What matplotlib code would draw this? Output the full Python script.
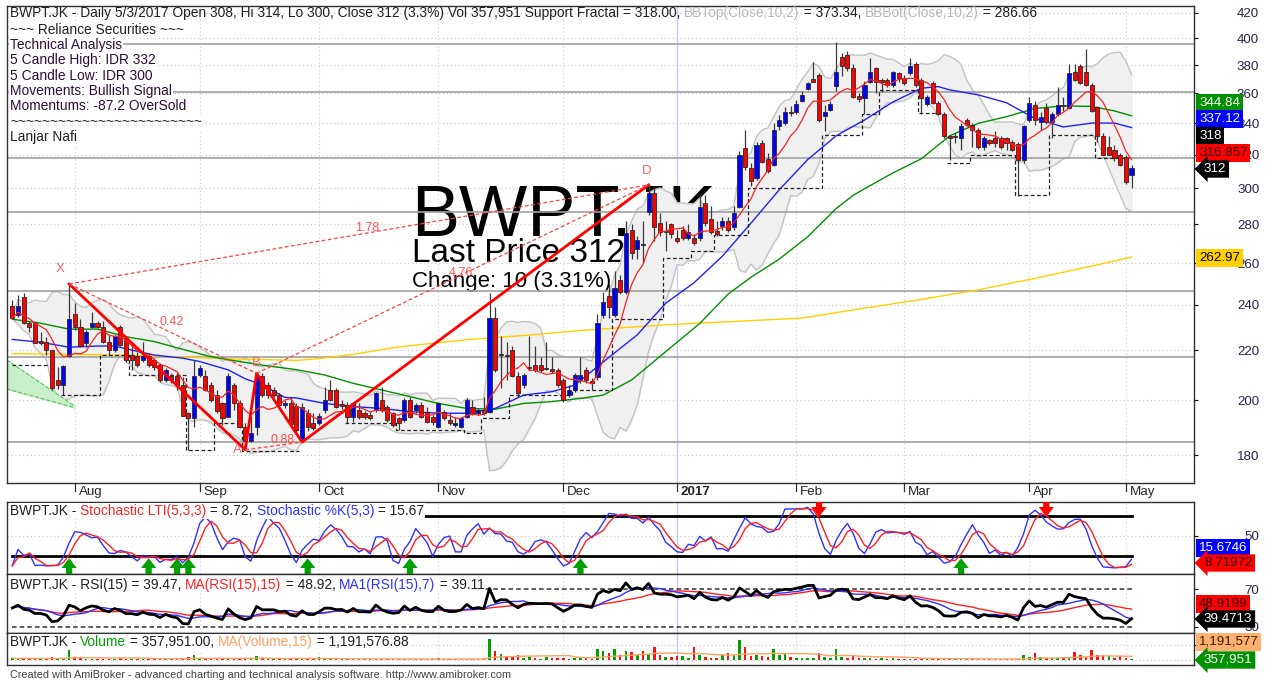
import numpy as np
import pandas as pd
import matplotlib
matplotlib.use("Agg")
import matplotlib.pyplot as plt
from matplotlib.ticker import NullLocator

plt.rcParams['font.family'] = ['Liberation Sans', 'DejaVu Sans']

W, H = 1274, 681

# daily bars, mid Jul 2016 .. 3 May 2017
opens = [
    239.5, 235.4, 243.5, 231.7, 231.7, 223.7, 223.7, 220.1, 207.8, 205.9,
    217.6, 235.9, 229.9, 223.3, 229.9, 231.7, 229.9, 223.7, 220.1, 229.9,
    225.1, 218.0, 217.6, 216.0, 217.6, 216.0, 213.9, 207.8, 209.5, 209.5,
    205.9, 195.0, 193.1, 210.0, 209.5, 205.9, 202.0, 198.8, 193.7, 205.9,
    198.8, 190.1, 185.0, 190.1, 209.5, 205.9, 203.9, 202.0, 198.1, 199.0,
    197.7, 185.3, 195.0, 191.5, 191.5, 196.2, 204.0, 204.0, 198.5, 198.1,
    193.7, 196.2, 195.0, 194.3, 196.2, 200.0, 197.5, 195.0, 193.1, 192.5,
    200.0, 196.2, 198.1, 195.6, 193.7, 190.0, 195.6, 192.5, 190.6, 190.0,
    193.7, 197.5, 195.0, 196.2, 195.6, 233.9, 218.3, 218.0, 220.1, 209.5,
    205.8, 213.0, 213.9, 213.9, 212.5, 212.0, 211.9, 207.8, 202.0, 203.9,
    208.0, 212.0, 207.5, 209.0, 235.4, 244.0, 235.4, 251.6, 246.0, 277.0,
    267.0, 269.5, 287.0, 297.2, 281.0, 276.5, 280.0, 273.0, 277.0, 273.0,
    273.0, 272.6, 291.5, 283.0, 276.5, 279.0, 282.0, 278.6, 289.7, 324.0,
    311.7, 306.0, 327.2, 317.6, 313.7, 337.9, 340.0, 347.5, 347.0, 355.0,
    363.0, 370.3, 372.7, 344.5, 348.8, 365.0, 386.0, 387.7, 377.5, 358.0,
    356.6, 368.0, 377.5, 369.5, 369.5, 365.7, 373.9, 370.4, 374.0, 381.0,
    369.5, 352.7, 367.0, 353.5, 346.0, 331.7, 331.5, 330.5, 342.0, 339.0,
    335.5, 324.6, 328.9, 330.5, 330.5, 330.5, 327.9, 326.9, 316.8, 342.0,
    352.0, 340.5, 350.0, 340.5, 346.0, 352.0, 350.0, 375.1, 379.0, 375.0,
    365.7, 350.5, 331.7, 324.6, 323.0, 319.8, 318.7, 308.0]
highs = [
    242.3, 244.6, 245.4, 232.5, 232.5, 228.0, 225.8, 220.1, 213.2, 213.9,
    249.8, 240.7, 233.5, 228.8, 236.9, 232.5, 232.5, 226.6, 226.6, 231.0,
    225.8, 222.3, 219.4, 223.7, 219.0, 216.7, 214.5, 212.5, 210.5, 210.5,
    209.2, 195.6, 216.0, 213.9, 212.0, 207.2, 203.9, 199.4, 210.5, 206.5,
    200.0, 191.3, 194.0, 210.5, 210.5, 207.2, 205.0, 202.6, 200.0, 201.0,
    199.0, 199.0, 196.5, 195.0, 195.0, 205.0, 208.0, 204.5, 200.0, 199.4,
    199.4, 199.0, 196.0, 195.5, 203.2, 205.0, 198.1, 195.6, 193.7, 200.6,
    201.3, 199.0, 199.4, 197.5, 194.3, 199.4, 196.2, 195.0, 193.7, 193.7,
    200.6, 200.0, 197.0, 201.3, 245.4, 239.2, 225.9, 223.7, 221.6, 211.2,
    210.5, 225.9, 221.6, 217.3, 223.7, 217.3, 212.6, 208.5, 206.0, 210.5,
    217.3, 213.2, 208.5, 236.0, 246.0, 250.0, 256.0, 254.0, 282.0, 280.0,
    274.0, 282.0, 302.0, 301.0, 286.0, 282.0, 281.0, 277.0, 279.0, 280.0,
    275.0, 296.0, 296.0, 290.0, 282.0, 284.0, 284.0, 290.0, 322.0, 335.5,
    314.7, 328.0, 329.0, 320.8, 340.0, 345.0, 350.5, 351.5, 355.5, 361.5,
    368.0, 382.0, 374.0, 352.0, 355.0, 397.0, 388.5, 390.0, 381.0, 360.0,
    368.5, 385.0, 378.5, 370.5, 370.5, 376.0, 375.0, 372.5, 384.9, 382.4,
    371.0, 358.5, 368.5, 354.5, 347.0, 332.5, 333.4, 340.0, 343.0, 340.0,
    336.5, 331.7, 330.0, 335.0, 331.7, 331.0, 329.0, 328.0, 338.9, 357.6,
    354.5, 347.5, 353.0, 347.5, 364.5, 357.5, 381.0, 381.0, 380.8, 392.0,
    367.0, 351.5, 333.4, 332.0, 326.0, 320.8, 319.8, 314.0]
lows = [
    233.5, 234.7, 231.3, 228.0, 223.0, 222.3, 218.0, 203.9, 204.2, 202.0,
    217.0, 228.8, 221.5, 221.3, 229.5, 229.5, 223.0, 218.0, 219.4, 221.8,
    215.3, 211.9, 213.2, 215.3, 213.2, 211.9, 207.2, 207.2, 206.5, 203.9,
    193.8, 181.8, 189.8, 209.2, 203.3, 199.4, 195.0, 190.7, 193.5, 196.2,
    189.5, 181.8, 184.7, 187.1, 201.3, 200.7, 201.3, 197.5, 197.0, 190.0,
    187.5, 184.5, 188.5, 188.8, 190.5, 195.0, 199.5, 196.8, 196.5, 191.3,
    191.9, 193.0, 193.0, 192.5, 195.6, 195.6, 191.9, 190.0, 188.8, 191.9,
    193.1, 195.0, 193.1, 191.3, 190.6, 189.4, 192.5, 190.6, 190.0, 189.4,
    193.1, 194.3, 194.5, 194.3, 195.0, 211.2, 204.5, 207.8, 209.1, 201.3,
    204.5, 211.9, 211.2, 211.2, 211.9, 210.5, 205.2, 199.4, 201.0, 203.0,
    206.5, 206.5, 203.9, 208.0, 234.0, 234.0, 234.5, 245.0, 245.0, 262.0,
    262.0, 260.0, 285.0, 271.0, 274.0, 266.0, 273.0, 270.0, 272.0, 272.0,
    269.0, 271.0, 279.0, 275.0, 274.0, 277.0, 276.0, 277.0, 289.0, 311.0,
    301.5, 305.0, 314.7, 309.0, 313.0, 335.5, 339.0, 344.5, 346.0, 354.0,
    362.0, 367.5, 341.0, 335.0, 348.0, 361.5, 372.0, 376.0, 356.6, 354.0,
    346.0, 367.0, 360.5, 361.0, 364.5, 364.5, 367.5, 365.7, 373.0, 364.5,
    345.7, 351.5, 352.5, 345.0, 330.5, 316.8, 327.0, 322.6, 338.0, 325.0,
    323.5, 322.6, 326.0, 324.6, 323.5, 322.6, 322.0, 295.4, 314.7, 341.0,
    338.5, 335.5, 339.5, 330.5, 344.5, 348.0, 349.0, 368.5, 366.5, 365.0,
    347.0, 327.9, 319.8, 319.8, 316.0, 313.0, 302.5, 300.0]
closes = [
    233.9, 239.5, 231.7, 229.9, 223.3, 223.3, 220.1, 204.6, 205.9, 213.6,
    233.5, 229.9, 221.8, 228.0, 231.7, 230.2, 223.7, 220.1, 226.1, 222.3,
    216.0, 216.0, 213.9, 217.6, 213.9, 213.2, 207.8, 211.9, 207.8, 205.9,
    194.0, 193.1, 209.5, 212.5, 203.9, 200.0, 196.0, 193.1, 209.5, 198.8,
    190.1, 185.0, 187.7, 209.5, 202.0, 202.0, 202.0, 198.1, 199.0, 191.0,
    188.8, 197.4, 190.0, 189.5, 194.0, 200.0, 200.0, 197.5, 197.8, 193.7,
    198.7, 193.7, 193.7, 193.1, 202.6, 196.2, 192.5, 190.6, 191.3, 200.0,
    193.7, 198.1, 193.7, 191.9, 191.9, 198.7, 193.1, 191.3, 191.5, 193.1,
    200.0, 195.0, 196.2, 195.0, 233.9, 211.9, 218.0, 217.6, 209.5, 202.6,
    209.8, 212.6, 211.9, 211.9, 212.2, 211.6, 205.8, 200.0, 204.0, 209.8,
    210.0, 208.0, 206.6, 231.6, 241.5, 239.0, 247.7, 246.0, 275.3, 265.0,
    272.0, 269.0, 297.2, 278.8, 276.0, 276.0, 275.0, 271.0, 273.0, 276.0,
    270.0, 289.7, 280.5, 276.0, 275.0, 282.0, 277.0, 286.0, 319.8, 312.7,
    304.3, 325.9, 315.6, 310.0, 335.5, 342.0, 347.0, 346.5, 352.7, 359.0,
    366.8, 368.0, 342.0, 347.4, 352.4, 375.3, 379.6, 378.0, 357.6, 356.0,
    365.7, 375.0, 368.0, 368.0, 365.7, 375.1, 370.4, 367.4, 379.3, 365.7,
    356.6, 357.6, 353.6, 346.0, 331.7, 330.5, 331.0, 338.0, 339.0, 335.5,
    324.6, 330.5, 327.0, 327.0, 324.6, 327.0, 323.0, 316.8, 337.9, 353.5,
    342.0, 344.0, 340.5, 346.0, 352.0, 351.5, 373.9, 369.5, 367.4, 365.7,
    348.0, 331.7, 320.0, 320.0, 318.0, 314.0, 303.5, 312.0]
# volume in thousands of shares
volumes = [
    600, 450, 700, 350, 550, 300, 400, 850, 450, 600,
    3300, 1000, 600, 450, 350, 300, 400, 450, 350, 600,
    400, 300, 450, 350, 300, 400, 350, 550, 300, 350,
    750, 950, 1600, 550, 400, 450, 350, 400, 600, 450,
    400, 550, 450, 1350, 600, 400, 350, 300, 350, 450,
    550, 600, 350, 300, 850, 400, 350, 300, 200, 350,
    400, 200, 300, 200, 450, 350, 300, 350, 200, 400,
    350, 200, 300, 350, 200, 550, 300, 200, 300, 350,
    450, 300, 200, 350, 7000, 3000, 1900, 1100, 850, 1500,
    800, 1100, 600, 450, 850, 650, 550, 800, 450, 600,
    650, 550, 450, 3600, 2900, 2300, 3500, 1700, 3100, 2600,
    1700, 2900, 2000, 4400, 1600, 1000, 850, 1300, 1200, 800,
    4300, 1700, 950, 800, 750, 1500, 2300, 1600, 6700, 4300,
    1400, 1700, 1300, 1000, 3700, 1700, 2000, 1000, 800, 750,
    650, 600, 2300, 1100, 800, 3700, 1000, 800, 1200, 650,
    600, 550, 450, 550, 400, 650, 350, 450, 300, 400,
    350, 450, 300, 400, 350, 300, 350, 400, 300, 350,
    300, 350, 200, 300, 350, 300, 350, 400, 1700, 900,
    2200, 1100, 550, 700, 700, 900, 800, 2500, 1500, 1000,
    3200, 1600, 1500, 1200, 800, 1200, 600, 358]

month_labels = ['Aug', 'Sep', 'Oct', 'Nov', 'Dec', '2017', 'Feb', 'Mar', 'Apr', 'May']
month_first_bar = [11, 33, 54, 75, 97, 117, 138, 157, 179, 196]

# moving averages (MA20 blue, MA50 green, MA200 yellow)
ma20_bars = [0, 5, 10, 15, 18, 21, 25, 30, 33, 38, 41, 44, 48, 50, 55, 60, 65, 70, 75, 80,
             85, 90, 95, 99, 105, 110, 115, 120, 125, 130, 135, 140, 145, 150, 155, 160,
             163, 165, 170, 175, 180, 185, 190, 194, 197]
ma20_vals = [224.6, 223.4, 221.3, 221.8, 221.8, 220.1, 218.0, 216.7, 215.3, 211.9, 208.3,
             205.9, 201.0, 200.8, 198.7, 197.5, 196.8, 195.6, 195.0, 195.0, 196.8, 201.9,
             203.2, 205.8, 217.0, 226.6, 240.7, 250.4, 263.5, 280.6, 299.2, 317.0, 331.8,
             342.0, 354.0, 363.5, 364.6, 362.3, 358.9, 353.5, 343.0, 337.5, 340.0, 340.0,
             337.1]
ma50_bars = [0, 5, 10, 15, 20, 25, 30, 35, 40, 45, 50, 55, 60, 65, 70, 75, 80, 85, 90, 95,
             100, 104, 109, 115, 121, 126, 130, 135, 140, 145, 148, 150, 155, 160, 165, 170,
             175, 180, 185, 190, 194, 197]
ma50_vals = [233.5, 231.7, 229.1, 229.1, 225.8, 223.7, 220.4, 217.3, 215.3, 213.5, 212.0,
             209.8, 206.5, 203.9, 201.3, 198.7, 196.8, 196.5, 198.7, 199.4, 200.6, 201.9,
             207.8, 219.4, 231.6, 245.0, 253.0, 262.0, 273.4, 288.6, 296.0, 299.8, 309.0,
             317.5, 331.8, 339.8, 344.2, 349.6, 351.4, 351.0, 348.0, 344.8]
ma200_bars = [0, 20, 40, 50, 54, 60, 68, 80, 92, 100, 115, 139, 150, 160, 170, 180, 190, 197]
ma200_vals = [218.6, 218.0, 216.3, 215.8, 216.5, 218.3, 221.4, 224.5, 226.7, 228.5, 231.0,
              234.0, 238.5, 242.5, 247.0, 252.5, 258.5, 263.0]

# support fractal step line: level starts at bar
frac_start = [0, 8, 9, 16, 21, 31, 36, 41, 51, 59, 68, 80, 83, 88, 99, 106, 115, 120, 124,
              130, 143, 150, 153, 160, 164, 165, 169, 177, 183, 191, 197]
frac_level = [213.9, np.nan, 202.0, 218.0, 209.9, 181.8, 191.3, 181.3, np.nan, 191.3, 189.0,
              187.6, 193.1, 201.9, 203.9, 233.7, 262.5, 266.0, 274.5, 300.0, 332.3, 345.7,
              362.0, 346.7, np.nan, 314.7, 319.8, 296.0, 332.3, 318.0, np.nan]

hlevels = [395.8, 360.7, 318.0, 286.66, 246.4, 217.2, 184.6]

# XABCD pattern
pat_names = ['X', 'A', 'B', 'C', 'D']
pat_bars = [10, 41, 43, 51, 112]
pat_prices = [249.8, 181.8, 210.5, 184.5, 302.0]
pat_ratios = [('X', 'B', '0.42'), ('A', 'C', '0.88'), ('X', 'D', '1.78'), ('B', 'D', '4.76')]
wedge_bars = [-1.0, 11.0]
wedge_top = [216.0, 197.7]
wedge_bot = [204.3, 197.1]

buy_arrows = [10, 24, 29, 31, 52, 70, 100, 167]
sell_arrows = [142, 182]

# ---- indicators ----
o = np.array(opens); hi = np.array(highs); lo = np.array(lows); cl = np.array(closes)
vol = np.array(volumes, dtype=float)
n = len(cl)
x = np.arange(n)
cs = pd.Series(cl)
ma7 = cs.rolling(7, min_periods=1).mean()
bbm = cs.rolling(10, min_periods=1).mean()
bbs = cs.rolling(10, min_periods=1).std(ddof=0)
bbt, bbb = bbm + 2 * bbs, bbm - 2 * bbs
hh = pd.Series(hi).rolling(5, min_periods=1).max()
ll = pd.Series(lo).rolling(5, min_periods=1).min()
rawk = 100 * (cs - ll) / (hh - ll)
stk = rawk.rolling(3, min_periods=1).mean()
std_ = stk.rolling(3, min_periods=1).mean()

# Wilder RSI(15), warm-started at a neutral level
d = np.diff(cl, prepend=cl[0])
seed = np.abs(d).mean() / 2
ag, al = seed, seed
rsi_v = []
for dv in d:
    ag = (ag * 14 + max(dv, 0)) / 15
    al = (al * 14 + max(-dv, 0)) / 15
    rsi_v.append(100 - 100 / (1 + ag / al))
rsi = pd.Series(rsi_v)
rsi15 = rsi.rolling(15, min_periods=1).mean()
rsi7 = rsi.rolling(7, min_periods=1).mean()
vma = pd.Series(vol).rolling(15, min_periods=1).mean()

frac = np.full(n, np.nan)
for i, s in enumerate(frac_start[:-1]):
    frac[s:frac_start[i + 1]] = frac_level[i]

# ---- figure ----
fig = plt.figure(figsize=(W / 100, H / 100), dpi=100)
fig.patch.set_facecolor('white')
L, R = 7, 1194

def rect(top, bot):
    return [L / W, 1 - bot / H, (R - L) / W, (bot - top) / H]

ax = fig.add_axes(rect(6, 483))
axs = fig.add_axes(rect(502, 574))
axr = fig.add_axes(rect(574, 633))
axv = fig.add_axes(rect(633, 665))
xl = (-0.93, 208.0)
tickcol = '#262650'
dot = (0, (1, 2.5))

for a in (ax, axs, axr, axv):
    a.set_xlim(*xl)
    a.set_xticks([])
    a.yaxis.tick_right()
    a.tick_params(axis='y', direction='out', length=3, pad=44, labelsize=9.6,
                  labelcolor=tickcol, color='black')
    for m in month_first_bar:
        a.axvline(m, color='#cfcfcf', lw=0.8, ls=dot, zorder=0.3)
    a.axvline(month_first_bar[5], color='#c8c8ff', lw=1, zorder=0.4)
    for sp in a.spines.values():
        sp.set_color('#303030')
        sp.set_linewidth(1.0)

# price panel
ax.set_yscale('log')
ax.set_ylim(170.6, 425.5)
pticks = [180, 200, 220, 240, 260, 280, 300, 320, 340, 360, 380, 400, 420]
ax.set_yticks(pticks)
ax.set_yticklabels([str(t) for t in pticks])
for t in pticks:
    ax.axhline(t, color='#c8c8c8', lw=0.8, ls=dot, zorder=0.3)
for lv in hlevels:
    ax.axhline(lv, color='#a0a0a0', lw=1.2, zorder=1.5)

ax.fill_between(x, bbb, bbt, color='#f0f0f0', zorder=1)
ax.plot(x, bbt, color='#c4c4c4', lw=1, zorder=1.1)
ax.plot(x, bbb, color='#c4c4c4', lw=1, zorder=1.1)

ax.fill_between(wedge_bars, wedge_bot, wedge_top, color='#c8f0c8', zorder=1.3)
ax.plot(wedge_bars, wedge_top, color='#60c060', lw=0.8, ls='--', zorder=1.3)
ax.plot(wedge_bars, wedge_bot, color='#60c060', lw=0.8, ls='--', zorder=1.3)

# watermark texts (under the bands)
ax.annotate('BWPT.JK', xy=(411, H - 236), xycoords='figure pixels', fontsize=52,
            color='black', zorder=0.8, va='baseline')
ax.annotate('Last Price 312', xy=(412, H - 262), xycoords='figure pixels', fontsize=24,
            color='black', zorder=0.8, va='baseline')
ax.annotate('Change: 10 (3.31%)', xy=(412, H - 287), xycoords='figure pixels', fontsize=16,
            color='black', zorder=0.8, va='baseline')

ax.plot(ma200_bars, ma200_vals, color='#ffd000', lw=1, zorder=2)
ax.plot(ma50_bars, ma50_vals, color='#009000', lw=1, zorder=2)
ax.plot(ma20_bars, ma20_vals, color='#2020ff', lw=1, zorder=2)
ax.plot(x, frac, color='#202020', lw=0.9, ls=(0, (3, 2)), drawstyle='steps-mid', zorder=2.5)

upc = cl >= o
ax.vlines(x, lo, hi, color='#3a3a3a', lw=0.9, zorder=2.9)
ax.bar(x, np.maximum(np.abs(cl - o), 0.6), 0.72, np.minimum(o, cl),
       color=np.where(upc, '#0000ff', '#ff0000'), edgecolor='#2a2a2a', linewidth=0.6, zorder=3)
ax.plot(x, ma7, color='#ff2020', lw=0.9, zorder=3.5)

# pattern
P = dict(zip(pat_names, zip(pat_bars, pat_prices)))
ax.plot(pat_bars, pat_prices, color='#ff0000', lw=2, zorder=4)
for a_, b_, r in pat_ratios:
    (x1, y1), (x2, y2) = P[a_], P[b_]
    ax.plot([x1, x2], [y1, y2], color='#ff4040', lw=0.9, ls=(0, (3, 2)), zorder=4)
    ax.text((x1 + x2) / 2 + 1.5, np.sqrt(y1 * y2) * 1.012, r, color='#ff5050', fontsize=9,
            ha='center', va='center', zorder=4)
lab_off = {'X': (-1.6, 1.03), 'A': (-1.3, 1.0), 'B': (0, 1.02), 'D': (-0.3, 1.028)}
for k, (dx, fy) in lab_off.items():
    bx, by = P[k]
    ax.text(bx + dx, by * fy, k, color='#ff6060', fontsize=9.5, ha='center', va='center',
            zorder=4)

# month labels
trans = ax.get_xaxis_transform()
for m, lab in zip(month_first_bar, month_labels):
    ax.plot([m, m], [0, -0.016], transform=trans, color='#303030', lw=0.9, clip_on=False)
    ax.text(m + 0.7, -0.018, lab, transform=trans, fontsize=9.6, color='#262626',
            ha='left', va='center', fontweight='bold' if lab == '2017' else 'normal')

# stochastic panel
axs.set_ylim(-7.9, 101.4)
axs.set_yticks([50])
axs.axhline(50, color='#c8c8c8', lw=0.8, ls=dot, zorder=0.3)
axs.axhline(80, xmin=(12 - L) / (R - L), xmax=(1132 - L) / (R - L), color='black', lw=2)
axs.axhline(20, xmin=(12 - L) / (R - L), xmax=(1132 - L) / (R - L), color='black', lw=2)
axs.plot(x, stk, color='#3030ff', lw=1, zorder=3)
axs.plot(x, std_, color='#ff2020', lw=1, zorder=3.1)
arr = 'simple,head_length=0.7,head_width=1.1,tail_width=0.45'
for b in buy_arrows:
    axs.annotate('', xy=(b, 16), xytext=(b, -7.8),
                 arrowprops=dict(arrowstyle=arr, color='#00a000', lw=0, shrinkA=0, shrinkB=0))
for b in sell_arrows:
    axs.annotate('', xy=(b, 79), xytext=(b, 101.3),
                 arrowprops=dict(arrowstyle=arr, color='#ff0000', lw=0, shrinkA=0, shrinkB=0))

# RSI panel
axr.set_ylim(23.0, 86.7)
axr.set_yticks([30, 70])
axr.axhline(70, xmin=(12 - L) / (R - L), xmax=(1132 - L) / (R - L), color='#303030', lw=1.1,
            ls=(0, (3, 2)))
axr.axhline(30, xmin=(12 - L) / (R - L), xmax=(1132 - L) / (R - L), color='#303030', lw=1.1,
            ls=(0, (3, 2)))
axr.plot(x, rsi15, color='#ff2020', lw=1, zorder=3)
axr.plot(x, rsi7, color='#3030ff', lw=1, zorder=3)
axr.plot(x, rsi, color='black', lw=2, zorder=3.2)

# volume panel
axv.set_ylim(-1670, 9000)
axv.set_yticks([5000])
axv.set_yticklabels([''])
for lv in (0, 5000):
    axv.axhline(lv, color='#c8c8c8', lw=0.8, ls=dot, zorder=0.3)
vup = np.r_[True, cl[1:] >= cl[:-1]]
axv.bar(x, vol, 0.45, color=np.where(vup, '#00a000', '#ff1010'), zorder=2)
axv.plot(x, vma, color='#ffa060', lw=1, zorder=3)

for a in (ax, axs, axr, axv):
    a.yaxis.set_minor_locator(NullLocator())
    for lbl in a.get_yticklabels():
        lbl.set_horizontalalignment('right')

# ---- texts ----
dark = '#202020'
light = '#b8b8b8'
purple = '#2e0c3a'
FS = 9.9

def chain(axis, px, py, pieces, size=FS, box=True):
    prev = None
    for s, col in pieces:
        kw = dict(fontsize=size, color=col, va='center', ha='left', zorder=6)
        if box:
            kw['bbox'] = dict(fc='white', ec='none', pad=0.4)
        if prev is None:
            prev = axis.annotate(s, xy=(px, H - py), xycoords='figure pixels', **kw)
        else:
            prev = axis.annotate(s, xy=(1, 0.5), xycoords=prev, **kw)

chain(ax, 10, 13, [
    ('BWPT.JK - Daily 5/3/2017 Open 308, Hi 314, Lo 300, Close 312 (3.3%) Vol 357,951 '
     'Support Fractal = 318.00, ', dark),
    ('BBTop(Close,10,2)', light), (' = 373.34, ', dark),
    ('BBBot(Close,10,2)', light), (' = 286.66', dark)], box=False)

info_lines = ['~~~ Reliance Securities ~~~', 'Technical Analysis', '5 Candle High: IDR 332',
              '5 Candle Low: IDR 300', 'Movements: Bullish Signal', 'Momentums: -87.2 OverSold',
              '~~~~~~~~~~~~~~~~~~~~~~~~', 'Lanjar Nafi']
info_col = [dark, purple, purple, purple, purple, purple, dark, dark]
info_y = [29.5, 45, 60, 75.5, 91, 106, 122, 137.5]
for s, col, yy in zip(info_lines, info_col, info_y):
    chain(ax, 10, yy, [(s, col)])

chain(axs, 10, 511, [('BWPT.JK - ', dark), ('Stochastic LTI(5,3,3)', '#ff2020'),
                     (' = 8.72, ', dark), ('Stochastic %K(5,3)', '#3030ff'),
                     (' = 15.67', dark)])
chain(axr, 10, 585, [('BWPT.JK - RSI(15) = 39.47, ', dark), ('MA(RSI(15),15)', '#ff2020'),
                     (' = 48.92, ', dark), ('MA1(RSI(15),7)', '#3030ff'),
                     (' = 39.11', dark)])
chain(axv, 10, 642, [('BWPT.JK - ', dark), ('Volume', '#00a000'),
                     (' = 357,951.00, ', dark), ('MA(Volume,15)', '#ffa060'),
                     (' = 1,191,576.88', dark)])

fig.text(10 / W, 1 - 675 / H, 'Created with AmiBroker - advanced charting and technical '
         'analysis software. http://www.amibroker.com', fontsize=7.8, color='#404040',
         va='center', ha='left')

def tag(py, s, fc, tc, arrow=False):
    px = 1204 if arrow else 1199
    style = 'larrow,pad=0.2' if arrow else 'square,pad=0.2'
    fig.text(px / W, 1 - py / H, s, fontsize=9.6, color=tc, va='center', ha='left',
             bbox=dict(boxstyle=style, fc=fc, ec='none'), zorder=10)

tag(103, '344.84', '#009000', 'white')
tag(119, '337.12', '#0000ff', 'white')
tag(136, '318', 'black', 'white')
tag(153, '316.857', '#ff0000', '#300000')
tag(169, '312', 'black', 'white', arrow=True)
tag(258, '262.97', '#ffd000', 'black')
tag(548, '15.6746', '#0000ff', 'white')
tag(563, '8.71972', '#ff0000', '#300000', arrow=True)
tag(604, '48.9199', '#ff0000', '#300000')
tag(619, '39.4713', 'black', 'white', arrow=True)
tag(642, '1,191,577', '#ffb070', '#302000')
tag(660, '357,951', '#009000', 'white', arrow=True)

fig.savefig('out.png', dpi=100)
